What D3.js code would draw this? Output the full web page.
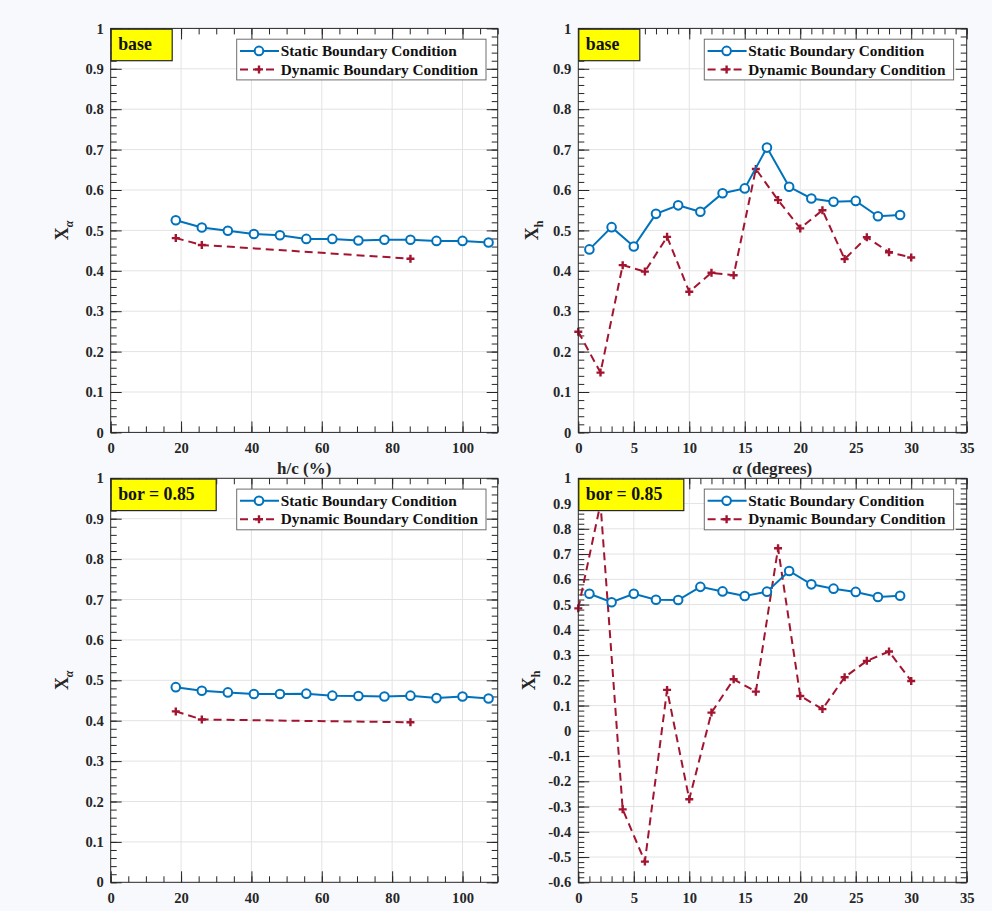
<!DOCTYPE html>
<html>
<head>
<meta charset="utf-8">
<script src="https://cdn.jsdelivr.net/npm/d3@7"></script>
<style>
  html, body { margin: 0; padding: 0; background: #f8f9fc; }
  svg { display: block; }
  text { font-family: "Liberation Serif", "Times New Roman", serif; font-weight: bold; }
</style>
</head>
<body>
<svg id="chart" width="992" height="911"></svg>
<script>
// ---------------- DATA ----------------
const hcStatic  = [18.5, 25.9, 33.3, 40.7, 48.1, 55.6, 63.0, 70.4, 77.8, 85.2, 92.6, 100.0, 107.4];
const hcDynamic = [18.5, 25.9, 85.2];
const baseXaStatic  = [0.525, 0.507, 0.499, 0.491, 0.488, 0.479, 0.479, 0.475, 0.477, 0.477, 0.474, 0.474, 0.470];
const baseXaDynamic = [0.481, 0.464, 0.430];
const borXaStatic   = [0.483, 0.474, 0.470, 0.466, 0.466, 0.467, 0.462, 0.461, 0.460, 0.462, 0.456, 0.460, 0.455];
const borXaDynamic  = [0.423, 0.403, 0.396];

const alphaStatic  = [1, 3, 5, 7, 9, 11, 13, 15, 17, 19, 21, 23, 25, 27, 29];
const alphaDynamic = [0, 2, 4, 6, 8, 10, 12, 14, 16, 18, 20, 22, 24, 26, 28, 30];
const baseXhStatic  = [0.453, 0.508, 0.460, 0.541, 0.562, 0.546, 0.592, 0.604, 0.705, 0.608, 0.579, 0.571, 0.573, 0.535, 0.538];
const baseXhDynamic = [0.249, 0.148, 0.414, 0.398, 0.484, 0.348, 0.395, 0.389, 0.652, 0.575, 0.505, 0.550, 0.429, 0.483, 0.446, 0.433];
const borXhStatic   = [0.543, 0.509, 0.543, 0.519, 0.518, 0.570, 0.552, 0.534, 0.551, 0.633, 0.580, 0.563, 0.550, 0.530, 0.535];
const borXhDynamic  = [0.485, 0.900, -0.311, -0.518, 0.162, -0.271, 0.072, 0.204, 0.155, 0.723, 0.138, 0.086, 0.212, 0.277, 0.314, 0.197];

const xTicksHC    = [0, 20, 40, 60, 80, 100];
const xTicksAlpha = [0, 5, 10, 15, 20, 25, 30, 35];
const yTicks01    = [0, 0.1, 0.2, 0.3, 0.4, 0.5, 0.6, 0.7, 0.8, 0.9, 1];
const yTicksWide  = [-0.6, -0.5, -0.4, -0.3, -0.2, -0.1, 0, 0.1, 0.2, 0.3, 0.4, 0.5, 0.6, 0.7, 0.8, 0.9, 1];

const seriesNames = ["Static Boundary Condition", "Dynamic Boundary Condition"];

// ---------------- STYLE ----------------
const BLUE = "#0072BD", RED = "#A2142F", INK = "#262626";
const svg = d3.select("#chart");

const panels = [
  { left: 110.7, top: 28.4, w: 387, h: 404, xDom: [0, 110], xMaj: xTicksHC, xMinStep: 5,
    yDom: [0, 1], yMaj: yTicks01, xs: hcStatic, ys: baseXaStatic, xd: hcDynamic, yd: baseXaDynamic,
    tag: "base", tagW: 61, yLab: "α", xTitle: "h/c (%)", yLabX: -43 },
  { left: 578.3, top: 28.4, w: 388.4, h: 404, xDom: [0, 35], xMaj: xTicksAlpha, xMinStep: 1,
    yDom: [0, 1], yMaj: yTicks01, xs: alphaStatic, ys: baseXhStatic, xd: alphaDynamic, yd: baseXhDynamic,
    tag: "base", tagW: 61, yLab: "h", xTitle: "α (degrees)", yLabX: -40 },
  { left: 110.7, top: 478.3, w: 387, h: 404, xDom: [0, 110], xMaj: xTicksHC, xMinStep: 5,
    yDom: [0, 1], yMaj: yTicks01, xs: hcStatic, ys: borXaStatic, xd: hcDynamic, yd: borXaDynamic,
    tag: "bor = 0.85", tagW: 105, yLab: "α", xTitle: null, yLabX: -43 },
  { left: 578.3, top: 478.3, w: 388.4, h: 404, xDom: [0, 35], xMaj: xTicksAlpha, xMinStep: 1,
    yDom: [-0.6, 1], yMaj: yTicksWide, xs: alphaStatic, ys: borXhStatic, xd: alphaDynamic, yd: borXhDynamic,
    tag: "bor = 0.85", tagW: 105, yLab: "h", xTitle: null, yLabX: -43 }
];

const fmt = d => { const r = Math.round(d * 10) / 10; return r === 0 ? "0" : String(r); };

panels.forEach((p, i) => {
  const g = svg.append("g").attr("transform", `translate(${p.left},${p.top})`);
  const x = d3.scaleLinear().domain(p.xDom).range([0, p.w]);
  const y = d3.scaleLinear().domain(p.yDom).range([p.h, 0]);

  g.append("rect").attr("width", p.w).attr("height", p.h).attr("fill", "#ffffff");

  // grid
  g.append("g").selectAll("line.vg").data(p.xMaj.filter(v => v > p.xDom[0] && v < p.xDom[1])).join("line")
    .attr("x1", d => x(d)).attr("x2", d => x(d)).attr("y1", 0).attr("y2", p.h)
    .attr("stroke", "#e3e3e3").attr("stroke-width", 1);
  g.append("g").selectAll("line.hg").data(p.yMaj.filter(v => v > p.yDom[0] && v < p.yDom[1])).join("line")
    .attr("x1", 0).attr("x2", p.w).attr("y1", d => y(d)).attr("y2", d => y(d))
    .attr("stroke", "#e3e3e3").attr("stroke-width", 1);

  // minor ticks values
  const xMinor = d3.range(p.xDom[0], p.xDom[1] + 1e-9, p.xMinStep);
  const yMinor = d3.range(Math.round(p.yDom[0] * 50), Math.round(p.yDom[1] * 50) + 1).map(k => k / 50);

  const axisStyle = sel => {
    sel.select(".domain").remove();
    sel.selectAll(".tick line").attr("stroke", INK).attr("stroke-width", 1);
    sel.selectAll(".tick text").attr("fill", INK).style("font-size", "14.6px")
      .style("font-family", '"Liberation Serif", "Times New Roman", serif').style("font-weight", "bold");
  };

  // bottom
  g.append("g").attr("transform", `translate(0,${p.h})`)
    .call(d3.axisBottom(x).tickValues(xMinor).tickSize(-6).tickSizeOuter(0).tickFormat("")).call(axisStyle);
  g.append("g").attr("transform", `translate(0,${p.h})`)
    .call(d3.axisBottom(x).tickValues(p.xMaj).tickSize(-11).tickSizeOuter(0).tickPadding(10).tickFormat(d3.format("d"))).call(axisStyle);
  // top
  g.append("g").call(d3.axisTop(x).tickValues(xMinor).tickSize(-6).tickSizeOuter(0).tickFormat("")).call(axisStyle);
  g.append("g").call(d3.axisTop(x).tickValues(p.xMaj).tickSize(-11).tickSizeOuter(0).tickFormat("")).call(axisStyle);
  // left
  g.append("g").call(d3.axisLeft(y).tickValues(yMinor).tickSize(-6).tickSizeOuter(0).tickFormat("")).call(axisStyle);
  g.append("g").call(d3.axisLeft(y).tickValues(p.yMaj).tickSize(-11).tickSizeOuter(0).tickPadding(7).tickFormat(fmt)).call(axisStyle);
  // right
  g.append("g").attr("transform", `translate(${p.w},0)`)
    .call(d3.axisRight(y).tickValues(yMinor).tickSize(-6).tickSizeOuter(0).tickFormat("")).call(axisStyle);
  g.append("g").attr("transform", `translate(${p.w},0)`)
    .call(d3.axisRight(y).tickValues(p.yMaj).tickSize(-11).tickSizeOuter(0).tickFormat("")).call(axisStyle);

  // data
  const line = d3.line().x(d => x(d[0])).y(d => y(d[1]));
  const sData = p.xs.map((v, k) => [v, p.ys[k]]);
  const dData = p.xd.map((v, k) => [v, p.yd[k]]);

  g.append("path").datum(dData).attr("d", line).attr("fill", "none")
    .attr("stroke", RED).attr("stroke-width", 2).attr("stroke-dasharray", "8,5");
  g.append("g").selectAll("path").data(dData).join("path")
    .attr("d", d => `M${x(d[0]) - 4},${y(d[1])}H${x(d[0]) + 4}M${x(d[0])},${y(d[1]) - 4}V${y(d[1]) + 4}`)
    .attr("stroke", RED).attr("stroke-width", 2.4).attr("fill", "none");

  g.append("path").datum(sData).attr("d", line).attr("fill", "none")
    .attr("stroke", BLUE).attr("stroke-width", 2);
  g.append("g").selectAll("circle").data(sData).join("circle")
    .attr("cx", d => x(d[0])).attr("cy", d => y(d[1])).attr("r", 4.3)
    .attr("fill", "#ffffff").attr("stroke", BLUE).attr("stroke-width", 2);

  // border
  g.append("rect").attr("width", p.w).attr("height", p.h).attr("fill", "none")
    .attr("stroke", INK).attr("stroke-width", 1);

  // tag box
  g.append("rect").attr("x", 0.5).attr("y", 0.8).attr("width", p.tagW).attr("height", 31.5)
    .attr("fill", "#ffff00").attr("stroke", INK).attr("stroke-width", 1.2);
  g.append("text").attr("x", 7.5).attr("y", 21.5).attr("fill", "#111")
    .style("font-size", "17.8px").text(p.tag);

  // legend
  const lg = g.append("g").attr("transform", "translate(126,10.8)");
  lg.append("rect").attr("width", 249.3).attr("height", 40.7).attr("fill", "#ffffff")
    .attr("stroke", "#6e6e6e").attr("stroke-width", 1);
  lg.append("line").attr("x1", 3.3).attr("x2", 42.3).attr("y1", 11.7).attr("y2", 11.7)
    .attr("stroke", BLUE).attr("stroke-width", 2);
  lg.append("circle").attr("cx", 22.3).attr("cy", 11.7).attr("r", 4.3)
    .attr("fill", "#ffffff").attr("stroke", BLUE).attr("stroke-width", 2);
  lg.append("line").attr("x1", 3.3).attr("x2", 42.3).attr("y1", 30.2).attr("y2", 30.2)
    .attr("stroke", RED).attr("stroke-width", 2).attr("stroke-dasharray", "8,5");
  lg.append("path").attr("d", "M18.3,30.2H26.3M22.3,26.2V34.2")
    .attr("stroke", RED).attr("stroke-width", 2.4);
  lg.selectAll("text.lt").data(seriesNames).join("text")
    .attr("x", 44).attr("y", (d, k) => 16.9 + k * 18.5).attr("fill", "#111")
    .style("font-size", "15.3px").text(d => d);

  // y label
  const yl = g.append("text").attr("transform", `translate(${p.yLabX},${p.h / 2}) rotate(-90)`)
    .attr("text-anchor", "middle").attr("fill", INK).style("font-size", "18px");
  yl.append("tspan").text("X");
  yl.append("tspan").attr("dy", 5).style("font-size", "12px")
    .style("font-style", p.yLab === "α" ? "italic" : "normal").text(p.yLab);

  // x title
  if (p.xTitle) {
    const xt = g.append("text").attr("x", p.w / 2).attr("y", p.h + 42)
      .attr("text-anchor", "middle").attr("fill", INK).style("font-size", "17px");
    if (p.xTitle.startsWith("α")) {
      xt.append("tspan").style("font-style", "italic").text("α");
      xt.append("tspan").text(" (degrees)");
    } else {
      xt.text(p.xTitle);
    }
  }
});
</script>
</body>
</html>
